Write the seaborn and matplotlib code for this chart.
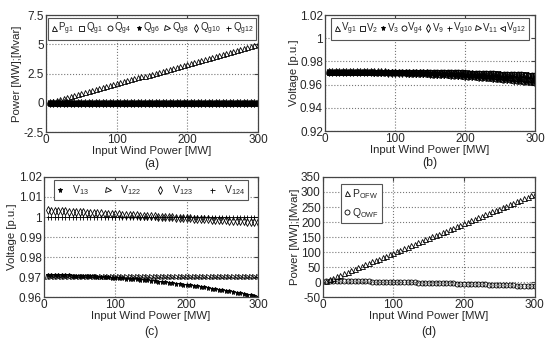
import numpy as np
import seaborn as sns
import matplotlib.pyplot as plt
from matplotlib.ticker import FuncFormatter

# Estilo
sns.set_style('white')
plt.rcParams['font.family'] = ['Liberation Sans', 'DejaVu Sans']
plt.rcParams['mathtext.default'] = 'regular'

# Potencia eolica de entrada [MW]
wind = list(range(5, 305, 5))

# (a) potencias dos geradores
p_g1 = [0.08, 0.17, 0.25, 0.33, 0.42, 0.50, 0.58, 0.67, 0.75, 0.83,
        0.92, 1.00, 1.08, 1.17, 1.25, 1.33, 1.42, 1.50, 1.58, 1.67,
        1.75, 1.83, 1.92, 2.00, 2.08, 2.17, 2.25, 2.33, 2.42, 2.50,
        2.58, 2.67, 2.75, 2.83, 2.92, 3.00, 3.08, 3.17, 3.25, 3.33,
        3.42, 3.50, 3.58, 3.67, 3.75, 3.83, 3.92, 4.00, 4.08, 4.17,
        4.25, 4.33, 4.42, 4.50, 4.58, 4.67, 4.75, 4.83, 4.92, 5.00]
q_g1 = [0.0] * 60
q_g4 = [0.0] * 60
q_g6 = [0.0] * 60
q_g8 = [0.0] * 60
q_g10 = [0.0] * 60
q_g12 = [0.0] * 60

# (b) tensoes dos geradores
v_g1 = [0.9709, 0.9709, 0.9710, 0.9710, 0.9711, 0.9711, 0.9711, 0.9712, 0.9712, 0.9712,
        0.9713, 0.9713, 0.9713, 0.9713, 0.9713, 0.9713, 0.9714, 0.9714, 0.9714, 0.9714,
        0.9713, 0.9713, 0.9713, 0.9713, 0.9713, 0.9713, 0.9712, 0.9712, 0.9712, 0.9711,
        0.9711, 0.9711, 0.9710, 0.9710, 0.9709, 0.9709, 0.9708, 0.9707, 0.9707, 0.9706,
        0.9705, 0.9705, 0.9704, 0.9703, 0.9702, 0.9701, 0.9700, 0.9699, 0.9698, 0.9697,
        0.9696, 0.9695, 0.9694, 0.9693, 0.9692, 0.9691, 0.9689, 0.9688, 0.9687, 0.9685]
v_2 = [0.9708, 0.9708, 0.9709, 0.9709, 0.9710, 0.9710, 0.9710, 0.9711, 0.9711, 0.9711,
       0.9712, 0.9712, 0.9712, 0.9712, 0.9712, 0.9712, 0.9713, 0.9713, 0.9713, 0.9713,
       0.9712, 0.9712, 0.9712, 0.9712, 0.9712, 0.9712, 0.9711, 0.9711, 0.9711, 0.9710,
       0.9710, 0.9710, 0.9709, 0.9709, 0.9708, 0.9708, 0.9707, 0.9706, 0.9706, 0.9705,
       0.9704, 0.9704, 0.9703, 0.9702, 0.9701, 0.9700, 0.9699, 0.9698, 0.9697, 0.9696,
       0.9695, 0.9694, 0.9693, 0.9692, 0.9691, 0.9690, 0.9688, 0.9687, 0.9686, 0.9684]
v_3 = [0.9708, 0.9708, 0.9708, 0.9708, 0.9708, 0.9708, 0.9709, 0.9709, 0.9709, 0.9709,
       0.9709, 0.9709, 0.9708, 0.9708, 0.9708, 0.9708, 0.9708, 0.9707, 0.9707, 0.9706,
       0.9705, 0.9705, 0.9704, 0.9704, 0.9703, 0.9702, 0.9701, 0.9700, 0.9700, 0.9698,
       0.9698, 0.9697, 0.9696, 0.9695, 0.9693, 0.9692, 0.9691, 0.9689, 0.9688, 0.9687,
       0.9685, 0.9684, 0.9682, 0.9681, 0.9679, 0.9677, 0.9675, 0.9674, 0.9672, 0.9670,
       0.9668, 0.9666, 0.9664, 0.9662, 0.9660, 0.9658, 0.9656, 0.9654, 0.9651, 0.9649]
v_g4 = [0.9707, 0.9707, 0.9708, 0.9708, 0.9709, 0.9709, 0.9709, 0.9710, 0.9710, 0.9710,
        0.9711, 0.9711, 0.9711, 0.9711, 0.9711, 0.9711, 0.9712, 0.9712, 0.9712, 0.9712,
        0.9711, 0.9711, 0.9711, 0.9711, 0.9711, 0.9711, 0.9710, 0.9710, 0.9710, 0.9709,
        0.9709, 0.9709, 0.9708, 0.9708, 0.9707, 0.9707, 0.9706, 0.9705, 0.9705, 0.9704,
        0.9703, 0.9703, 0.9702, 0.9701, 0.9700, 0.9699, 0.9698, 0.9697, 0.9696, 0.9695,
        0.9694, 0.9693, 0.9692, 0.9691, 0.9690, 0.9689, 0.9687, 0.9686, 0.9685, 0.9683]
v_9 = [0.9705, 0.9705, 0.9705, 0.9705, 0.9705, 0.9705, 0.9706, 0.9706, 0.9706, 0.9706,
       0.9706, 0.9706, 0.9705, 0.9705, 0.9705, 0.9705, 0.9705, 0.9704, 0.9704, 0.9703,
       0.9702, 0.9702, 0.9701, 0.9701, 0.9700, 0.9699, 0.9698, 0.9697, 0.9697, 0.9695,
       0.9695, 0.9694, 0.9693, 0.9692, 0.9690, 0.9689, 0.9688, 0.9686, 0.9685, 0.9684,
       0.9682, 0.9681, 0.9679, 0.9678, 0.9676, 0.9674, 0.9672, 0.9671, 0.9669, 0.9667,
       0.9665, 0.9663, 0.9661, 0.9659, 0.9657, 0.9655, 0.9653, 0.9651, 0.9648, 0.9646]
v_g10 = [0.9709, 0.9709, 0.9709, 0.9709, 0.9709, 0.9709, 0.9709, 0.9709, 0.9709, 0.9708,
         0.9708, 0.9708, 0.9707, 0.9707, 0.9706, 0.9705, 0.9705, 0.9704, 0.9703, 0.9702,
         0.9701, 0.9700, 0.9699, 0.9698, 0.9697, 0.9695, 0.9694, 0.9692, 0.9691, 0.9689,
         0.9688, 0.9686, 0.9685, 0.9683, 0.9681, 0.9679, 0.9677, 0.9675, 0.9673, 0.9671,
         0.9669, 0.9667, 0.9664, 0.9662, 0.9659, 0.9657, 0.9654, 0.9652, 0.9649, 0.9646,
         0.9644, 0.9641, 0.9638, 0.9635, 0.9632, 0.9629, 0.9626, 0.9623, 0.9619, 0.9616]
v_11 = [0.9707, 0.9707, 0.9707, 0.9707, 0.9707, 0.9707, 0.9707, 0.9707, 0.9707, 0.9706,
        0.9706, 0.9706, 0.9705, 0.9705, 0.9704, 0.9703, 0.9703, 0.9702, 0.9701, 0.9700,
        0.9699, 0.9698, 0.9697, 0.9696, 0.9695, 0.9693, 0.9692, 0.9690, 0.9689, 0.9687,
        0.9686, 0.9684, 0.9683, 0.9681, 0.9679, 0.9677, 0.9675, 0.9673, 0.9671, 0.9669,
        0.9667, 0.9665, 0.9662, 0.9660, 0.9657, 0.9655, 0.9652, 0.9650, 0.9647, 0.9644,
        0.9642, 0.9639, 0.9636, 0.9633, 0.9630, 0.9627, 0.9624, 0.9621, 0.9617, 0.9614]
v_g12 = [0.9706, 0.9706, 0.9706, 0.9706, 0.9706, 0.9706, 0.9706, 0.9706, 0.9706, 0.9705,
         0.9705, 0.9705, 0.9704, 0.9704, 0.9703, 0.9702, 0.9702, 0.9701, 0.9700, 0.9699,
         0.9698, 0.9697, 0.9696, 0.9695, 0.9694, 0.9692, 0.9691, 0.9689, 0.9688, 0.9686,
         0.9685, 0.9683, 0.9682, 0.9680, 0.9678, 0.9676, 0.9674, 0.9672, 0.9670, 0.9668,
         0.9666, 0.9664, 0.9661, 0.9659, 0.9656, 0.9654, 0.9651, 0.9649, 0.9646, 0.9643,
         0.9641, 0.9638, 0.9635, 0.9632, 0.9629, 0.9626, 0.9623, 0.9620, 0.9616, 0.9613]

# (c) tensoes nas barras da rede
v_13 = [0.9710, 0.9710, 0.9709, 0.9709, 0.9709, 0.9708, 0.9708, 0.9707, 0.9706, 0.9706,
        0.9705, 0.9704, 0.9703, 0.9703, 0.9702, 0.9701, 0.9700, 0.9698, 0.9697, 0.9696,
        0.9695, 0.9693, 0.9692, 0.9691, 0.9689, 0.9688, 0.9686, 0.9684, 0.9683, 0.9681,
        0.9679, 0.9677, 0.9675, 0.9673, 0.9671, 0.9669, 0.9667, 0.9665, 0.9662, 0.9660,
        0.9658, 0.9655, 0.9653, 0.9650, 0.9648, 0.9645, 0.9642, 0.9639, 0.9637, 0.9634,
        0.9631, 0.9628, 0.9625, 0.9622, 0.9619, 0.9615, 0.9612, 0.9609, 0.9605, 0.9602]
v_122 = [0.9700] * 60
v_123 = [1.0033, 1.0032, 1.0031, 1.0030, 1.0029, 1.0028, 1.0027, 1.0026, 1.0025, 1.0024,
         1.0023, 1.0022, 1.0021, 1.0020, 1.0019, 1.0018, 1.0017, 1.0016, 1.0015, 1.0014,
         1.0013, 1.0012, 1.0011, 1.0010, 1.0009, 1.0008, 1.0007, 1.0006, 1.0005, 1.0004,
         1.0003, 1.0002, 1.0001, 1.0000, 0.9999, 0.9998, 0.9997, 0.9996, 0.9995, 0.9994,
         0.9993, 0.9992, 0.9991, 0.9990, 0.9989, 0.9988, 0.9987, 0.9986, 0.9985, 0.9984,
         0.9983, 0.9982, 0.9981, 0.9980, 0.9979, 0.9978, 0.9977, 0.9976, 0.9975, 0.9974]
v_124 = [1.0000] * 60

# (d) potencias do parque eolico offshore
p_ofw = [4.9, 9.8, 14.7, 19.6, 24.5, 29.4, 34.3, 39.2, 44.1, 49.0,
         53.9, 58.8, 63.7, 68.6, 73.5, 78.4, 83.3, 88.2, 93.1, 98.0,
         102.9, 107.8, 112.7, 117.6, 122.5, 127.4, 132.3, 137.2, 142.1, 147.0,
         151.9, 156.8, 161.7, 166.6, 171.5, 176.4, 181.3, 186.2, 191.1, 196.0,
         200.9, 205.8, 210.7, 215.6, 220.5, 225.4, 230.3, 235.2, 240.1, 245.0,
         249.9, 254.8, 259.7, 264.6, 269.5, 274.4, 279.3, 284.2, 289.1, 294.0]
q_owf = [3.9, 3.7, 3.6, 3.5, 3.3, 3.1, 3.0, 2.8, 2.6, 2.5,
         2.3, 2.1, 1.9, 1.7, 1.5, 1.2, 1.0, 0.8, 0.5, 0.3,
         0.1, -0.2, -0.5, -0.7, -1.0, -1.3, -1.6, -1.9, -2.1, -2.5,
         -2.8, -3.1, -3.4, -3.7, -4.1, -4.4, -4.7, -5.1, -5.4, -5.8,
         -6.2, -6.5, -6.9, -7.3, -7.7, -8.1, -8.5, -8.9, -9.3, -9.8,
         -10.2, -10.6, -11.1, -11.5, -12.0, -12.4, -12.9, -13.3, -13.8, -14.3]

fig = plt.figure(figsize=(5.5, 3.43), dpi=100)
ax_a = fig.add_axes([0.084, 0.615, 0.385, 0.341])
ax_b = fig.add_axes([0.591, 0.618, 0.382, 0.338])
ax_c = fig.add_axes([0.080, 0.134, 0.389, 0.350])
ax_d = fig.add_axes([0.587, 0.134, 0.385, 0.350])


def serie(ax, y, marker, label):
    # marcadores pretos sem linha, como no MATLAB
    cheio = 'k' if marker == '*' else 'none'
    sns.lineplot(x=wind, y=y, ax=ax, marker=marker, linestyle='none',
                 color='k', mec='k', mfc=cheio, ms=3.6, mew=0.6,
                 label=label, legend=False)


def formata(ax, yticks, ylabel, letra, desloc):
    ax.set_xlim(0, 300)
    ax.set_ylim(yticks[0], yticks[-1])
    ax.set_xticks([0, 100, 200, 300])
    ax.set_yticks(yticks)
    ax.yaxis.set_major_formatter(FuncFormatter(lambda v, p: f'{v:g}'))
    ax.grid(True, color='#777777', linestyle=':', linewidth=0.8)
    ax.set_axisbelow(True)
    ax.tick_params(direction='in', length=3, labelsize=8.5, top=True, right=True,
                   color='#444444', pad=1.5)
    for s in ax.spines.values():
        s.set_color('#444444')
        s.set_linewidth(0.9)
    ax.set_xlabel('Input Wind Power [MW]', fontsize=8.2, labelpad=0)
    ax.set_ylabel(ylabel, fontsize=8.2, labelpad=1)
    ax.annotate(letra, xy=(0.5, 0), xycoords='axes fraction', xytext=(0, -desloc),
                textcoords='offset points', ha='center', va='center', fontsize=8.8)


def legenda(ax, **kw):
    opcoes = dict(fontsize=7, fancybox=False, framealpha=1, borderpad=0.3,
                  handlelength=0.6, handletextpad=0.15, borderaxespad=0.3)
    opcoes.update(kw)
    leg = ax.legend(**opcoes)
    leg.get_frame().set_edgecolor('#555555')
    leg.get_frame().set_linewidth(0.8)


# (a)
serie(ax_a, p_g1, '^', '$P_{g1}$')
serie(ax_a, q_g1, 's', '$Q_{g1}$')
serie(ax_a, q_g4, 'o', '$Q_{g4}$')
serie(ax_a, q_g6, '*', '$Q_{g6}$')
serie(ax_a, q_g8, '>', '$Q_{g8}$')
serie(ax_a, q_g10, 'd', '$Q_{g10}$')
serie(ax_a, q_g12, '+', '$Q_{g12}$')
formata(ax_a, [-2.5, 0, 2.5, 5, 7.5], 'Power [MW];[Mvar]', '(a)', 23)
legenda(ax_a, loc='upper center', ncol=7, columnspacing=0.45)

# (b)
serie(ax_b, v_g1, '^', '$V_{g1}$')
serie(ax_b, v_2, 's', '$V_{2}$')
serie(ax_b, v_3, '*', '$V_{3}$')
serie(ax_b, v_g4, 'o', '$V_{g4}$')
serie(ax_b, v_9, 'd', '$V_{9}$')
serie(ax_b, v_g10, '+', '$V_{g10}$')
serie(ax_b, v_11, '>', '$V_{11}$')
serie(ax_b, v_g12, '<', '$V_{g12}$')
formata(ax_b, [0.92, 0.94, 0.96, 0.98, 1.0, 1.02], 'Voltage [p.u.]', '(b)', 23)
legenda(ax_b, loc='upper center', ncol=8, columnspacing=0.2, handletextpad=0.1)

# (c)
serie(ax_c, v_13, '*', '$V_{13}$')
serie(ax_c, v_122, '>', '$V_{122}$')
serie(ax_c, v_123, 'd', '$V_{123}$')
serie(ax_c, v_124, '+', '$V_{124}$')
formata(ax_c, [0.96, 0.97, 0.98, 0.99, 1.0, 1.01, 1.02], 'Voltage [p.u.]', '(c)', 25)
legenda(ax_c, loc='upper center', ncol=4, columnspacing=1.5, handletextpad=0.9,
        fontsize=7.5)

# (d)
serie(ax_d, p_ofw, '^', '$P_{OFW}$')
serie(ax_d, q_owf, 'o', '$Q_{OWF}$')
formata(ax_d, [-50, 0, 50, 100, 150, 200, 250, 300, 350], 'Power [MW];[Mvar]', '(d)', 25)
legenda(ax_d, loc='upper left', ncol=1, bbox_to_anchor=(0.07, 0.97), fontsize=7.5)

fig.savefig('out.png', dpi=100)
